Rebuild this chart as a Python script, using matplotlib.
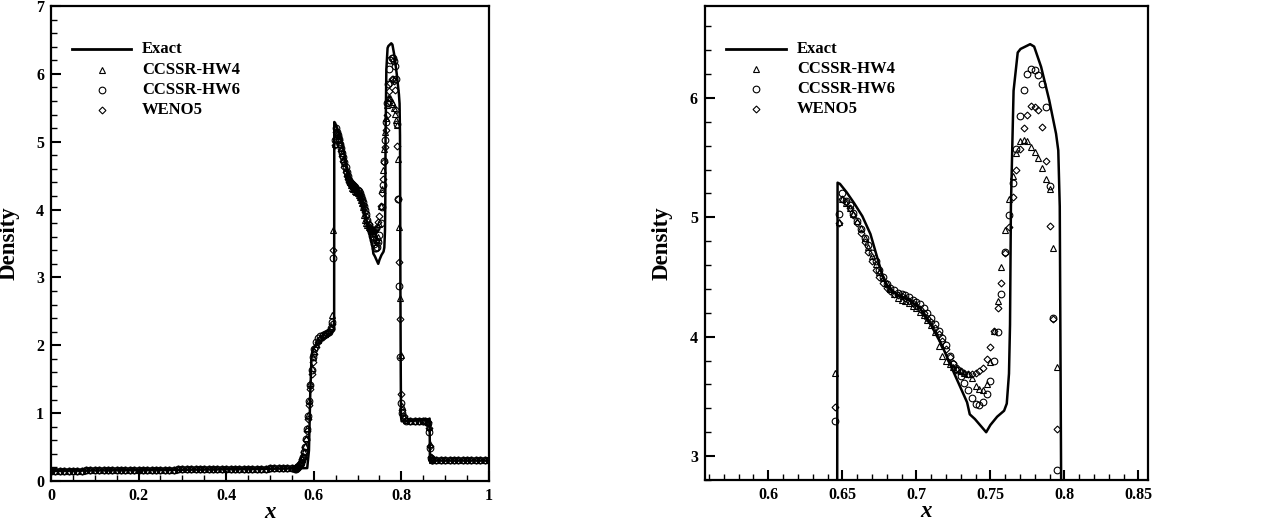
"""Woodward-Colella blast wave: density, full domain (left) and zoom 0.56-0.86 (right)."""
import numpy as np
import matplotlib
matplotlib.use("Agg")
import matplotlib.pyplot as plt
from matplotlib.ticker import MultipleLocator, FormatStrFormatter

plt.rcParams["font.family"] = ["Liberation Serif", "DejaVu Serif"]
plt.rcParams["font.weight"] = "bold"

# --- exact solution ---
exact_x = [0.0, 0.1, 0.2, 0.3, 0.4, 0.5, 0.55, 0.585, 0.589, 0.592, 0.595, 0.598,
           0.6, 0.61, 0.62, 0.63, 0.64, 0.6465,
           0.6468, 0.6484, 0.6529, 0.6579, 0.6635, 0.669, 0.6746, 0.6783, 0.682,
           0.6875, 0.695, 0.7024, 0.7098, 0.7172, 0.7246, 0.7300, 0.7343, 0.7361,
           0.7396, 0.7472, 0.750, 0.7546, 0.7593, 0.7611, 0.7626, 0.7633, 0.7639,
           0.7657, 0.7685, 0.7704, 0.7769, 0.7796, 0.7843, 0.7898, 0.7944, 0.7959,
           0.7969, 0.7978, 0.7986, 0.7992, 0.8005, 0.81, 0.83, 0.85, 0.862, 0.8645,
           0.8652, 0.9, 1.0]
exact_rho = [0.15, 0.155, 0.16, 0.165, 0.172, 0.18, 0.185, 0.19, 0.45, 1.3, 1.85, 1.95,
             1.97, 2.03, 2.08, 2.13, 2.18, 2.22,
             5.29, 5.28, 5.21, 5.12, 5.01, 4.86, 4.62, 4.47, 4.40,
             4.35, 4.31, 4.24, 4.10, 3.93, 3.72, 3.57, 3.45, 3.35,
             3.31, 3.20, 3.26, 3.33, 3.38, 3.44, 3.69, 4.10, 5.09,
             6.06, 6.38, 6.41, 6.45, 6.43, 6.26, 5.98, 5.70, 5.56,
             5.09, 2.85, 1.60, 0.95, 0.88, 0.88, 0.89, 0.90, 0.91, 0.92,
             0.30, 0.30, 0.30]

# --- numerical results: smooth pre-shock region, every 0.01 (same for all schemes) ---
flat_left_x = [0.00, 0.01, 0.02, 0.03, 0.04, 0.05, 0.06, 0.07, 0.08, 0.09,
               0.10, 0.11, 0.12, 0.13, 0.14, 0.15, 0.16, 0.17, 0.18, 0.19,
               0.20, 0.21, 0.22, 0.23, 0.24, 0.25, 0.26, 0.27, 0.28, 0.29,
               0.30, 0.31, 0.32, 0.33, 0.34, 0.35, 0.36, 0.37, 0.38, 0.39,
               0.40, 0.41, 0.42, 0.43, 0.44, 0.45, 0.46, 0.47, 0.48, 0.49,
               0.50, 0.51, 0.52, 0.53, 0.54, 0.55]
flat_left_rho = [0.15, 0.15, 0.15, 0.15, 0.15, 0.15, 0.15, 0.15, 0.155, 0.155,
                 0.155, 0.155, 0.155, 0.155, 0.16, 0.16, 0.16, 0.16, 0.16, 0.16,
                 0.16, 0.16, 0.165, 0.165, 0.165, 0.165, 0.165, 0.165, 0.165, 0.17,
                 0.17, 0.17, 0.17, 0.17, 0.17, 0.17, 0.175, 0.175, 0.175, 0.175,
                 0.175, 0.175, 0.175, 0.18, 0.18, 0.18, 0.18, 0.18, 0.18, 0.18,
                 0.185, 0.185, 0.185, 0.185, 0.185, 0.19]
flat_right_x = [0.87, 0.88, 0.89, 0.90, 0.91, 0.92, 0.93, 0.94, 0.95, 0.96, 0.97, 0.98, 0.99, 1.00]
flat_right_rho = [0.31, 0.31, 0.31, 0.31, 0.31, 0.31, 0.31, 0.31, 0.31, 0.31, 0.31, 0.31, 0.31, 0.31]

# contact ramp 0.5575-0.6425
ramp_x = [0.5575, 0.56, 0.5625, 0.565, 0.5675, 0.57, 0.5725, 0.575, 0.5775, 0.58,
          0.5825, 0.585, 0.5875, 0.59, 0.5925, 0.595, 0.5975, 0.6, 0.605, 0.61,
          0.615, 0.62, 0.625, 0.63, 0.635, 0.64, 0.6425]
ramp_hw4 = [0.19, 0.20, 0.21, 0.23, 0.25, 0.28, 0.32, 0.37, 0.43, 0.52,
            0.63, 0.78, 0.97, 1.20, 1.45, 1.66, 1.82, 1.92, 2.02, 2.08,
            2.12, 2.15, 2.17, 2.19, 2.22, 2.28, 2.45]
ramp_hw6 = [0.18, 0.18, 0.19, 0.21, 0.24, 0.27, 0.31, 0.36, 0.42, 0.50,
            0.62, 0.77, 0.96, 1.18, 1.42, 1.64, 1.83, 1.95, 2.05, 2.10,
            2.13, 2.15, 2.16, 2.18, 2.20, 2.25, 2.35]
ramp_weno = [0.19, 0.20, 0.21, 0.23, 0.25, 0.28, 0.32, 0.36, 0.42, 0.50,
             0.60, 0.74, 0.92, 1.12, 1.36, 1.57, 1.75, 1.87, 1.98, 2.05,
             2.09, 2.12, 2.15, 2.17, 2.20, 2.24, 2.32]

# blast-interaction region 0.645-0.795, dx = 0.0025
mid_x = [0.645, 0.6475, 0.65, 0.6525, 0.655, 0.6575, 0.66, 0.6625, 0.665, 0.6675,
         0.67, 0.6725, 0.675, 0.6775, 0.68, 0.6825, 0.685, 0.6875, 0.69, 0.6925,
         0.695, 0.6975, 0.70, 0.7025, 0.705, 0.7075, 0.71, 0.7125, 0.715, 0.7175,
         0.72, 0.7225, 0.725, 0.7275, 0.73, 0.7325, 0.735, 0.7375, 0.74, 0.7425,
         0.745, 0.7475, 0.75, 0.7525, 0.755, 0.7575, 0.76, 0.7625, 0.765, 0.7675,
         0.77, 0.7725, 0.775, 0.7775, 0.78, 0.7825, 0.785, 0.7875, 0.79, 0.7925,
         0.795]
mid_hw4 = [3.70, 4.96, 5.15, 5.12, 5.08, 5.03, 4.97, 4.91, 4.83, 4.75,
           4.68, 4.61, 4.54, 4.49, 4.45, 4.40, 4.36, 4.32, 4.31, 4.30,
           4.28, 4.26, 4.24, 4.21, 4.18, 4.14, 4.10, 4.04, 3.92, 3.84,
           3.80, 3.77, 3.75, 3.73, 3.71, 3.70, 3.69, 3.65, 3.59, 3.56,
           3.55, 3.60, 3.79, 4.05, 4.30, 4.58, 4.89, 5.15, 5.35, 5.54,
           5.64, 5.65, 5.64, 5.59, 5.55, 5.50, 5.41, 5.32, 5.24, 4.74,
           3.75]
mid_hw6 = [3.29, 5.03, 5.20, 5.14, 5.10, 5.04, 4.97, 4.90, 4.83, 4.77,
           4.70, 4.63, 4.56, 4.50, 4.44, 4.41, 4.39, 4.37, 4.36, 4.35,
           4.33, 4.31, 4.29, 4.27, 4.24, 4.20, 4.16, 4.11, 4.05, 3.99,
           3.93, 3.84, 3.77, 3.72, 3.67, 3.61, 3.55, 3.49, 3.44, 3.43,
           3.45, 3.52, 3.63, 3.80, 4.04, 4.36, 4.71, 5.02, 5.29, 5.57,
           5.85, 6.07, 6.20, 6.24, 6.23, 6.19, 6.12, 5.92, 5.26, 4.16,
           2.88]
mid_weno = [3.41, 4.95, 5.15, 5.13, 5.08, 5.02, 4.95, 4.87, 4.79, 4.71,
            4.63, 4.56, 4.50, 4.45, 4.41, 4.38, 4.36, 4.35, 4.34, 4.32,
            4.30, 4.28, 4.26, 4.23, 4.20, 4.16, 4.12, 4.07, 4.02, 3.96,
            3.90, 3.83, 3.78, 3.74, 3.71, 3.70, 3.69, 3.69, 3.70, 3.71,
            3.74, 3.81, 3.91, 4.05, 4.24, 4.45, 4.70, 4.92, 5.17, 5.40,
            5.57, 5.75, 5.86, 5.93, 5.92, 5.90, 5.76, 5.47, 4.93, 4.15,
            3.23]

# post-shock plateau 0.7975-0.87
post_x = [0.7975, 0.80, 0.8025, 0.805, 0.81, 0.82, 0.83, 0.84, 0.85, 0.855,
          0.86, 0.8625, 0.865, 0.8675, 0.87]
post_hw4 = [2.70, 1.85, 1.10, 0.95, 0.90, 0.88, 0.88, 0.88, 0.88, 0.88, 0.87, 0.80, 0.55, 0.36, 0.32]
post_hw6 = [1.82, 1.15, 1.00, 0.93, 0.89, 0.88, 0.88, 0.88, 0.88, 0.88, 0.86, 0.72, 0.48, 0.34, 0.31]
post_weno = [2.38, 1.28, 1.05, 0.96, 0.90, 0.88, 0.88, 0.88, 0.88, 0.88, 0.87, 0.78, 0.52, 0.35, 0.32]

LABELS = ["Exact", "CCSSR-HW4", "CCSSR-HW6", "WENO5"]
MARKERS = ["^", "o", "D"]
MSIZE = [4.4, 4.8, 3.5]


def _series(ramp, mid, post):
    x = flat_left_x + ramp_x + mid_x + post_x + flat_right_x
    y = flat_left_rho + ramp + mid + post + flat_right_rho
    return np.array(x), np.array(y)


SERIES = [_series(ramp_hw4, mid_hw4, post_hw4),
          _series(ramp_hw6, mid_hw6, post_hw6),
          _series(ramp_weno, mid_weno, post_weno)]


def _panel(ax, xlim, ylim, xmaj, xmin, ymaj, ymin, xfmt):
    ax.plot(exact_x, exact_rho, color="black", lw=1.8, zorder=3)
    for (x, y), m, ms in zip(SERIES, MARKERS, MSIZE):
        ax.plot(x, y, ls="none", marker=m, ms=ms, mfc="none", mec="black", mew=0.8, zorder=4)
    ax.set_xlim(*xlim); ax.set_ylim(*ylim)
    ax.xaxis.set_major_locator(MultipleLocator(xmaj)); ax.xaxis.set_minor_locator(MultipleLocator(xmin))
    ax.yaxis.set_major_locator(MultipleLocator(ymaj)); ax.yaxis.set_minor_locator(MultipleLocator(ymin))
    ax.xaxis.set_major_formatter(FormatStrFormatter(xfmt))
    ax.yaxis.set_major_formatter(FormatStrFormatter("%g"))
    ax.tick_params(which="both", direction="in", top=False, right=False, labelsize=11.5)
    ax.tick_params(which="major", length=7, width=1.5, pad=5)
    ax.tick_params(which="minor", length=4, width=1.0)
    for s in ax.spines.values():
        s.set_linewidth(1.6)
    ax.set_ylabel("Density", fontsize=16.5, fontweight="bold")
    ax.yaxis.set_label_coords(-0.072, 0.5)
    ax.set_xlabel("x", fontsize=16.5, fontweight="bold", style="italic")
    ax.xaxis.set_label_coords(0.5, -0.045)
    # legend drawn by hand (Tecplot style)
    rows = [0.909, 0.866, 0.824, 0.782]
    ax.plot([0.047, 0.182], [rows[0]] * 2, color="black", lw=2.0, transform=ax.transAxes, clip_on=False)
    for yr, m, ms in zip(rows[1:], MARKERS, MSIZE):
        ax.plot([0.116], [yr], ls="none", marker=m, ms=ms, mfc="none", mec="black", mew=0.8,
                transform=ax.transAxes)
    for yr, lab in zip(rows, LABELS):
        ax.text(0.208, yr, lab, transform=ax.transAxes, fontsize=12, fontweight="bold",
                va="center", ha="left")


fig = plt.figure(figsize=(12.72, 5.24), dpi=100)
ax1 = fig.add_axes([0.0401, 0.0821, 0.3443, 0.9065])
ax2 = fig.add_axes([0.5542, 0.0840, 0.3483, 0.9046])
_panel(ax1, (0, 1), (0, 7), 0.2, 0.05, 1, 0.2, "%g")
_panel(ax2, (0.5572, 0.8565), (2.8, 6.77), 0.05, 0.01, 1, 0.2, "%g")
fig.savefig("out.png", dpi=100)
